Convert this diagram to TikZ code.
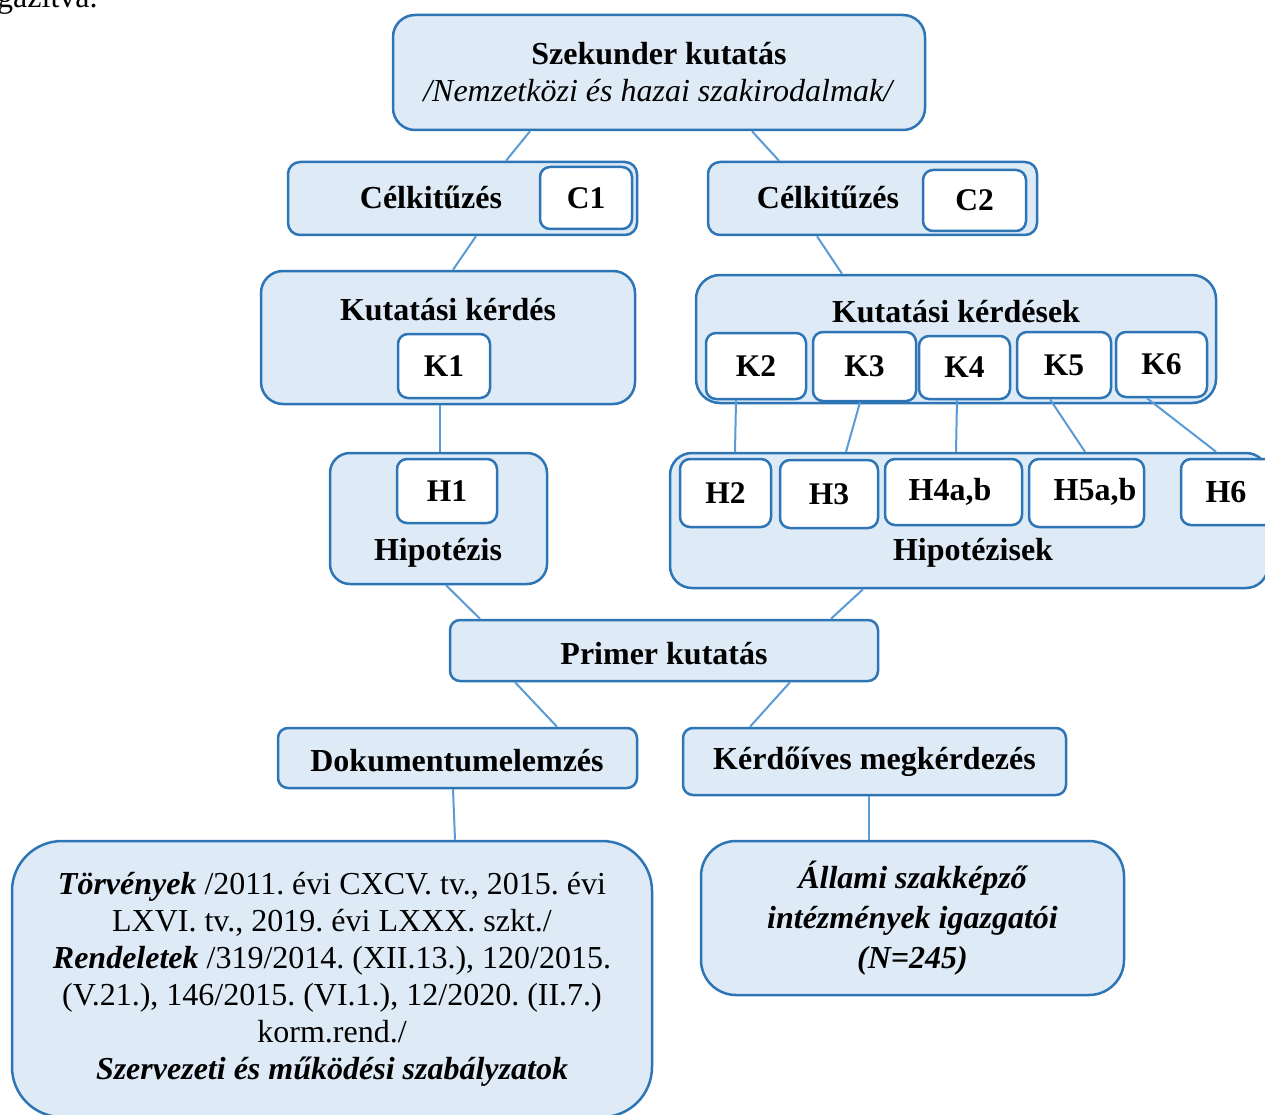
\documentclass[tikz,border=0pt]{standalone}
\usepackage{fontspec}
\setmainfont{Liberation Serif}
\frenchspacing
\definecolor{bfill}{HTML}{DEEBF7}
\definecolor{bdraw}{HTML}{2E75B6}
\definecolor{lconn}{HTML}{5B9BD5}
\tikzset{
  outerbox/.style={draw=bdraw, fill=bfill, line width=2.5pt, rounded corners=#1, inner sep=0pt},
  innerbox/.style={draw=bdraw, fill=white, line width=2.5pt, rounded corners=10pt, inner sep=0pt,
     font=\fontsize{31.5}{36}\selectfont\bfseries},
  conn/.style={draw=lconn, line width=2pt},
  bl/.style={font=\fontsize{32}{36}\selectfont\bfseries, inner sep=0pt},
  bodytxt/.style={font=\fontsize{32}{37}\selectfont, align=center, inner sep=0pt},
}
\begin{document}
\begin{tikzpicture}[x=1pt,y=-1pt]
\useasboundingbox (0,0) rectangle (1265,1115);
\clip (0,0) rectangle (1265,1115);
\fill[white] (0,0) rectangle (1265,1115);
% fragment of surrounding text
\node[anchor=base west, font=\fontsize{32}{37}\selectfont, inner sep=0pt] (frag) at (-3,8) {gazítva.};

% top box
\node[outerbox=22pt, minimum width=532pt, minimum height=115pt, bodytxt] (sz) at (659,72.5)
  {\textbf{Szekunder kutatás}\\\textit{/Nemzetközi és hazai szakirodalmak/}};

% C1
\node[outerbox=12pt, minimum width=349pt, minimum height=73pt] (c1) at (462.5,198.5) {};
\node[bl] (c1t) at (431,197) {Célkitűzés};
\node[innerbox, minimum width=92pt, minimum height=62pt] (c1i) at (586,198) {C1};
% C2
\node[outerbox=12pt, minimum width=329pt, minimum height=73pt] (c2) at (872.5,198.5) {};
\node[bl] (c2t) at (828,197) {Célkitűzés};
\node[innerbox, minimum width=103pt, minimum height=61pt] (c2i) at (974.5,200.5) {C2};

% Kutatási kérdés
\node[outerbox=22pt, minimum width=374pt, minimum height=133pt] (kk) at (448,337.5) {};
\node[bl] (kkt) at (448,310) {Kutatási kérdés};
\node[innerbox, minimum width=92pt, minimum height=64pt] (k1) at (444,366) {K1};

% Kutatási kérdések
\node[outerbox=24pt, minimum width=520pt, minimum height=128pt] (kks) at (956,339) {};
\node[bl] (kkst) at (956,312) {Kutatási kérdések};
\node[innerbox, minimum width=100pt, minimum height=66pt] (k2) at (756,366) {K2};
\node[innerbox, minimum width=103pt, minimum height=69pt] (k3) at (864.5,366.5) {K3};
\node[innerbox, minimum width=91pt, minimum height=63pt] (k4) at (964.5,367.5) {K4};
\node[innerbox, minimum width=94pt, minimum height=66pt] (k5) at (1064,365) {K5};
\node[innerbox, minimum width=91pt, minimum height=65pt] (k6) at (1161.5,364.5) {K6};

% Hipotézis
\node[outerbox=20pt, minimum width=217pt, minimum height=131pt] (h1o) at (438.5,518.5) {};
\node[innerbox, minimum width=100pt, minimum height=64pt] (h1) at (447,491) {H1};
\node[bl] (h1t) at (438,553) {Hipotézis};

% Hipotézisek
\node[outerbox=22pt, minimum width=598pt, minimum height=135pt] (hs) at (969,520.5) {};
\node[innerbox, minimum width=91pt, minimum height=68pt] (h2) at (725.5,493) {H2};
\node[innerbox, minimum width=98pt, minimum height=68pt] (h3) at (829,494) {H3};
\node[innerbox, minimum width=137pt, minimum height=66pt] (h4) at (953.5,492) {};
\node[bl] (h4t) at (950,492) {H4a,b};
\node[innerbox, minimum width=115pt, minimum height=68pt] (h5) at (1086.5,493) {};
\node[bl] (h5t) at (1095,492) {H5a,b};
\node[innerbox, minimum width=96pt, minimum height=66pt] (h6) at (1229,492) {};
\node[bl] (h6t) at (1226,492) {H6};
\node[bl] (hst) at (973,553) {Hipotézisek};

% Primer
\node[outerbox=10pt, minimum width=428pt, minimum height=61pt] (pr) at (664,650.5) {};
\node[bl] (prt) at (664,654) {Primer kutatás};
\node[outerbox=10pt, minimum width=359pt, minimum height=60pt] (dok) at (457.5,758) {};
\node[bl] (dokt) at (457,761) {Dokumentumelemzés};
\node[outerbox=10pt, minimum width=383pt, minimum height=67pt] (kerd) at (874.5,761.5) {};
\node[bl] (kerdt) at (874.5,762) {Kérdőíves megkérdezés};

% bottom boxes
\node[outerbox=50pt, minimum width=640pt, minimum height=276pt, bodytxt] (tv) at (332,979)
  {\textbf{\textit{Törvények}} /2011. évi CXCV. tv., 2015. évi\\
   LXVI. tv., 2019. évi LXXX. szkt./\\
   \textbf{\textit{Rendeletek}} /319/2014. (XII.13.), 120/2015.\\
   (V.21.), 146/2015. (VI.1.), 12/2020. (II.7.)\\
   korm.rend./\\
   \textbf{\textit{Szervezeti és működési szabályzatok}}};
\node[outerbox=35pt, minimum width=423pt, minimum height=154pt, font=\fontsize{32}{40}\selectfont\bfseries\itshape, align=center, inner sep=0pt] (al) at (912.5,918)
  {Állami szakképző\\intézmények igazgatói\\(N=245)};

% connectors
\draw[conn] ([xshift=-129pt]sz.south) -- ([xshift=43.5pt]c1.north);
\draw[conn] ([xshift=93pt]sz.south) -- ([xshift=-93.5pt]c2.north);
\draw[conn] ([xshift=13.5pt]c1.south) -- ([xshift=5pt]kk.north);
\draw[conn] ([xshift=-55.5pt]c2.south) -- ([xshift=-114pt]kks.north);
\draw[conn] ([xshift=-8pt]kk.south) -- ([xshift=1.5pt]h1o.north);
\draw[conn] ([xshift=-20pt]k2.south) -- ([xshift=-234pt]hs.north);
\draw[conn] ([xshift=-4.5pt]k3.south) -- ([xshift=-123pt]hs.north);
\draw[conn] ([xshift=-7.5pt]k4.south) -- ([xshift=-13pt]hs.north);
\draw[conn] ([xshift=-14pt]k5.south) -- ([xshift=116pt]hs.north);
\draw[conn] ([xshift=-14.5pt]k6.south) -- ([xshift=247pt]hs.north);
\draw[conn] ([xshift=7.5pt]h1o.south) -- ([xshift=-184pt]pr.north);
\draw[conn] ([xshift=-106pt]hs.south) -- ([xshift=167pt]pr.north);
\draw[conn] ([xshift=-149pt]pr.south) -- ([xshift=99.5pt]dok.north);
\draw[conn] ([xshift=126pt]pr.south) -- ([xshift=-124.5pt]kerd.north);
\draw[conn] ([xshift=-4.5pt]dok.south) -- ([xshift=123pt]tv.north);
\draw[conn] ([xshift=-5.5pt]kerd.south) -- ([xshift=-43.5pt]al.north);
\end{tikzpicture}
\end{document}
